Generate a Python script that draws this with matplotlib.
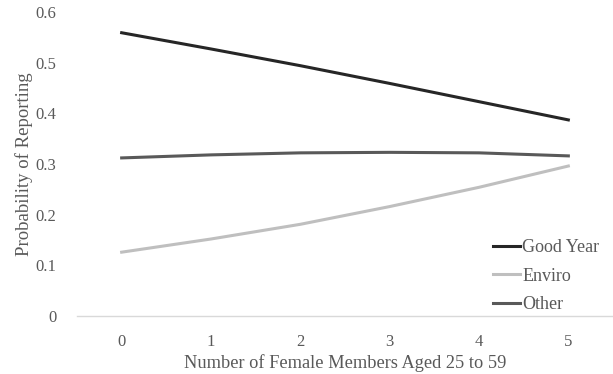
import matplotlib
matplotlib.use("Agg")
import matplotlib.pyplot as plt

# data
members = [0, 1, 2, 3, 4, 5]
good_year = [0.559, 0.527, 0.494, 0.459, 0.423, 0.387]
enviro = [0.126, 0.152, 0.181, 0.216, 0.254, 0.296]
other = [0.312, 0.318, 0.322, 0.323, 0.322, 0.316]
y_ticks = [0, 0.1, 0.2, 0.3, 0.4, 0.5, 0.6]

text_col = "#595959"
plt.rcParams['font.family'] = ['Liberation Serif', 'DejaVu Serif']

fig = plt.figure(figsize=(6.13, 3.74), dpi=100)
ax = fig.add_axes([0.1256, 0.155, 0.8744, 0.813])

ax.plot(members, good_year, color="#262626", lw=2.2, label="Good Year")
ax.plot(members, enviro, color="#bfbfbf", lw=2.2, label="Enviro")
ax.plot(members, other, color="#595959", lw=2.2, label="Other")

ax.set_xlim(-0.5, 5.5)
ax.set_ylim(0, 0.6)
ax.set_xticks(members)
ax.set_yticks(y_ticks)
ax.set_yticklabels([f"{v:g}" for v in y_ticks])

for s in ["top", "right", "left"]:
    ax.spines[s].set_visible(False)
ax.spines["bottom"].set_color("#d9d9d9")
ax.spines["bottom"].set_linewidth(1)
ax.tick_params(axis="both", length=0, colors=text_col, labelsize=12)
ax.tick_params(axis="x", pad=13)
ax.tick_params(axis="y", pad=15)

ax.set_xlabel("Number of Female Members Aged 25 to 59", color=text_col, fontsize=13.2, labelpad=3)
ax.set_ylabel("Probability of Reporting", color=text_col, fontsize=13.5, labelpad=2)

leg = ax.legend(loc="lower right", frameon=False, fontsize=13, handlelength=1.5,
                handletextpad=0.1, labelspacing=0.65, bbox_to_anchor=(1.005, -0.045))
for t in leg.get_texts():
    t.set_color(text_col)

fig.savefig("out.png", dpi=100)
